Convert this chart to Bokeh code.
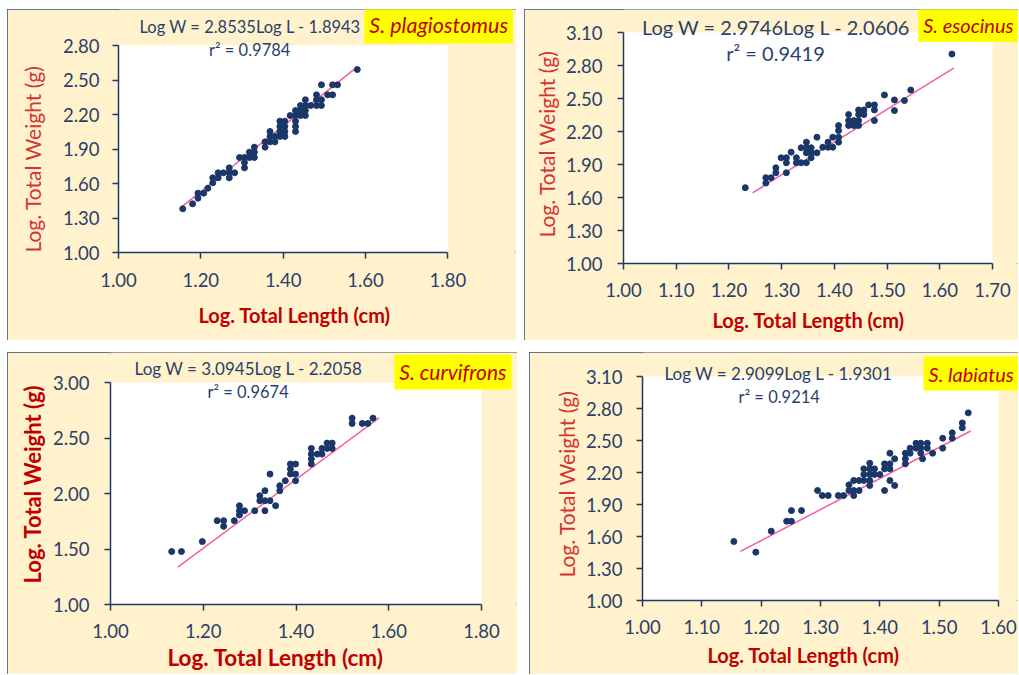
from bokeh.plotting import figure
from bokeh.layouts import row, column
from bokeh.models import Label, Title, FixedTicker, PrintfTickFormatter, Range1d
from bokeh.embed import file_html
from bokeh.resources import INLINE

# ---------------- data ----------------
species = ["S. plagiostomus", "S. esocinus", "S. curvifrons", "S. labiatus"]
equations = ["Log W = 2.8535Log  L - 1.8943",
             "Log W  = 2.9746Log L  - 2.0606",
             "Log W = 3.0945Log  L  - 2.2058",
             "Log W = 2.9099Log  L  - 1.9301"]
r2_labels = ["r\u00b2 = 0.9784", "r\u00b2 = 0.9419", "r\u00b2 = 0.9674", "r\u00b2 = 0.9214"]
slopes = [2.8535, 2.9746, 3.0945, 2.9099]
intercepts = [-1.8943, -2.0606, -2.2058, -1.9301]
fit_x_ranges = [[1.155, 1.580], [1.245, 1.627], [1.145, 1.579], [1.165, 1.553]]

x_ticks_1 = [1.00, 1.20, 1.40, 1.60, 1.80]
y_ticks_1 = [1.00, 1.30, 1.60, 1.90, 2.20, 2.50, 2.80]
x_ticks_2 = [1.00, 1.10, 1.20, 1.30, 1.40, 1.50, 1.60, 1.70]
y_ticks_2 = [1.00, 1.30, 1.60, 1.90, 2.20, 2.50, 2.80, 3.10]
x_ticks_3 = [1.00, 1.20, 1.40, 1.60, 1.80]
y_ticks_3 = [1.00, 1.50, 2.00, 2.50, 3.00]
x_ticks_4 = [1.00, 1.10, 1.20, 1.30, 1.40, 1.50, 1.60]
y_ticks_4 = [1.00, 1.30, 1.60, 1.90, 2.20, 2.50, 2.80, 3.10]

plag_logL = [1.156, 1.180, 1.193, 1.193, 1.207, 1.217, 1.229, 1.229, 1.242, 1.242,
             1.255, 1.269, 1.269, 1.269, 1.282, 1.294, 1.306, 1.306, 1.306, 1.318,
             1.318, 1.330, 1.330, 1.330, 1.356, 1.356, 1.368, 1.368, 1.368, 1.380,
             1.380, 1.392, 1.392, 1.392, 1.392, 1.404, 1.404, 1.404, 1.404, 1.417,
             1.430, 1.430, 1.430, 1.430, 1.430, 1.442, 1.442, 1.442, 1.454, 1.454,
             1.454, 1.454, 1.467, 1.481, 1.481, 1.481, 1.493, 1.493, 1.493, 1.508,
             1.520, 1.520, 1.532, 1.580]
plag_logW = [1.380, 1.423, 1.472, 1.516, 1.516, 1.559, 1.606, 1.649, 1.649, 1.693,
             1.693, 1.693, 1.736, 1.649, 1.693, 1.826, 1.826, 1.783, 1.736, 1.826,
             1.872, 1.826, 1.872, 1.916, 1.916, 1.962, 1.962, 2.009, 2.052, 1.962,
             2.009, 2.009, 2.052, 2.096, 2.142, 2.009, 2.052, 2.096, 2.142, 2.191,
             2.052, 2.096, 2.142, 2.191, 2.235, 2.235, 2.278, 2.191, 2.191, 2.235,
             2.278, 2.328, 2.278, 2.278, 2.328, 2.371, 2.278, 2.328, 2.458, 2.371,
             2.371, 2.458, 2.458, 2.591]

eso_logL = [1.231, 1.270, 1.270, 1.280, 1.289, 1.289, 1.309, 1.299, 1.309, 1.309,
            1.318, 1.328, 1.328, 1.337, 1.337, 1.347, 1.347, 1.347, 1.347, 1.356,
            1.356, 1.356, 1.367, 1.367, 1.378, 1.388, 1.388, 1.397, 1.397, 1.408,
            1.408, 1.408, 1.408, 1.427, 1.427, 1.427, 1.437, 1.437, 1.446, 1.446,
            1.446, 1.446, 1.456, 1.456, 1.465, 1.476, 1.476, 1.476, 1.495, 1.514,
            1.514, 1.533, 1.545, 1.623]
eso_logW = [1.689, 1.780, 1.731, 1.780, 1.825, 1.870, 1.825, 1.961, 1.961, 1.916,
            2.012, 1.961, 1.916, 1.916, 2.052, 2.103, 2.052, 2.006, 1.916, 2.052,
            2.006, 1.961, 2.006, 2.148, 2.057, 2.103, 2.057, 2.057, 2.148, 2.103,
            2.148, 2.208, 2.254, 2.254, 2.299, 2.354, 2.254, 2.299, 2.254, 2.299,
            2.354, 2.396, 2.354, 2.396, 2.442, 2.442, 2.396, 2.299, 2.532, 2.487,
            2.390, 2.481, 2.577, 2.904]

curv_logL = [1.132, 1.153, 1.198, 1.230, 1.244, 1.244, 1.267, 1.278, 1.278, 1.278,
             1.289, 1.311, 1.322, 1.322, 1.333, 1.333, 1.333, 1.344, 1.344, 1.356,
             1.365, 1.365, 1.377, 1.388, 1.388, 1.388, 1.399, 1.399, 1.399, 1.433,
             1.433, 1.433, 1.433, 1.446, 1.456, 1.456, 1.467, 1.467, 1.478, 1.478,
             1.521, 1.521, 1.543, 1.555, 1.566]
curv_logW = [1.477, 1.477, 1.567, 1.755, 1.755, 1.704, 1.755, 1.806, 1.845, 1.890,
             1.845, 1.845, 1.935, 1.980, 2.025, 1.935, 1.845, 1.935, 2.175, 1.890,
             2.025, 2.070, 2.115, 2.175, 2.220, 2.265, 2.265, 2.175, 2.115, 2.265,
             2.310, 2.355, 2.406, 2.355, 2.355, 2.406, 2.406, 2.454, 2.454, 2.406,
             2.679, 2.631, 2.631, 2.631, 2.679]

lab_logL = [1.154, 1.191, 1.217, 1.243, 1.251, 1.251, 1.268, 1.295, 1.303, 1.313,
            1.330, 1.339, 1.348, 1.348, 1.356, 1.356, 1.356, 1.365, 1.365, 1.373,
            1.373, 1.373, 1.383, 1.383, 1.383, 1.383, 1.383, 1.391, 1.391, 1.400,
            1.408, 1.408, 1.408, 1.417, 1.417, 1.417, 1.417, 1.425, 1.425, 1.443,
            1.443, 1.443, 1.451, 1.451, 1.461, 1.461, 1.469, 1.469, 1.469, 1.472,
            1.480, 1.480, 1.489, 1.506, 1.506, 1.522, 1.522, 1.539, 1.539, 1.549]
lab_logW = [1.553, 1.453, 1.650, 1.743, 1.743, 1.843, 1.843, 2.031, 1.984, 1.984,
            1.984, 1.984, 2.031, 2.084, 1.984, 2.031, 2.125, 2.031, 2.125, 2.125,
            2.181, 2.234, 2.078, 2.125, 2.181, 2.234, 2.287, 2.234, 2.181, 2.181,
            2.031, 2.234, 2.281, 2.281, 2.234, 2.381, 2.125, 2.078, 2.328, 2.281,
            2.328, 2.381, 2.381, 2.428, 2.428, 2.474, 2.428, 2.474, 2.381, 2.328,
            2.474, 2.428, 2.381, 2.521, 2.428, 2.572, 2.521, 2.619, 2.665, 2.759]

x_title = "Log. Total Length (cm)"
y_title = "Log. Total Weight (g)"

# ---------------- styles / geometry ----------------
CREAM = "#FFF2CC"
NAVY = "#1F3864"
TXT = "#2A3F6B"
PTS = "#1B3769"
PINK = "#F2609F"
RED_B = "#C00000"
RED_Y = "#D63333"
YELLOW = "#FFFF00"
FONT = "Lato"

# w,h canvas; bl = left border, bb = bottom border; aw, ah = pixel size of the white plot area
cfgs = [
    dict(w=509, h=331, bl=109, bb=88, aw=331, ah=207, xstand=14, ystand=13,
         eq=(1.051, 2.957, "16.5px"), r2=(1.220, 2.757, "16.5px"), sp=(1.597, 2.974, "21.5px"),
         ylab=("21px", "normal", RED_Y, 25, 0, "top"), xlab=("20px", 22, 80)),
    dict(w=494, h=331, bl=99, bb=77, aw=369, ah=231, xstand=13, ystand=15,
         eq=(1.035, 3.151, "20px"), r2=(1.195, 2.916, "20px"), sp=(1.559, 3.169, "20px"),
         ylab=("21px", "normal", RED_Y, 7, 26, "bottom"), xlab=("20px", 12, 89)),
    dict(w=510, h=322, bl=103, bb=70, aw=371, ah=222, xstand=13, ystand=15,
         eq=(1.052, 3.122, "17px"), r2=(1.209, 2.918, "16.5px"), sp=(1.612, 3.095, "21px"),
         ylab=("22px", "bold", RED_B, 8, 21, "bottom"), xlab=("22.5px", 2, 57)),
    dict(w=489, h=322, bl=113, bb=74, aw=356, ah=224, xstand=13, ystand=14,
         eq=(1.037, 3.127, "17px"), r2=(1.162, 2.912, "16.5px"), sp=(1.4736, 3.128, "20px"),
         ylab=("21px", "normal", RED_Y, 7, 23, "bottom"), xlab=("20px", 9, 65)),
]


def make_panel(i, xs, ys, xt, yt):
    c = cfgs[i]
    # the frame reaches the top and right canvas edges so the texts there are drawn
    x_end = xt[0] + (xt[-1] - xt[0]) * (c["w"] - c["bl"]) / c["aw"]
    y_end = yt[0] + (yt[-1] - yt[0]) * (c["h"] - c["bb"]) / c["ah"]
    p = figure(width=c["w"], height=c["h"],
               x_range=Range1d(xt[0], x_end), y_range=Range1d(yt[0], y_end),
               output_backend="svg", toolbar_location=None,
               min_border_left=c["bl"], min_border_right=0,
               min_border_top=0, min_border_bottom=c["bb"],
               background_fill_color=CREAM, border_fill_color=CREAM,
               outline_line_color=None,
               styles={"outline": "2px solid #2E4A7D", "outline-offset": "-2px"})
    p.grid.visible = False

    for ax in (p.xaxis[0], p.yaxis[0]):
        ax.axis_line_color = NAVY
        ax.axis_line_width = 1.5
        ax.major_tick_line_color = NAVY
        ax.major_tick_line_width = 1.5
        ax.major_tick_out = 6
        ax.major_tick_in = 0
        ax.minor_tick_line_color = None
        ax.major_label_text_font = FONT
        ax.major_label_text_font_size = "18.5px"
        ax.major_label_text_color = TXT
        ax.formatter = PrintfTickFormatter(format="%.2f")

    p.xaxis.ticker = FixedTicker(ticks=xt)
    p.yaxis.ticker = FixedTicker(ticks=yt)
    p.xaxis.bounds = (xt[0], xt[-1])
    p.yaxis.bounds = (yt[0], yt[-1])
    p.xaxis.major_label_standoff = c["xstand"]
    p.yaxis.major_label_standoff = c["ystand"]

    yfs, yst, ycol, ystd, yoff, yva = c["ylab"]
    p.add_layout(Title(text=y_title, align="left", offset=yoff, standoff=ystd,
                       vertical_align=yva,
                       text_font=FONT, text_font_size=yfs, text_font_style=yst,
                       text_color=ycol), "left")
    xfs, xstd, xoff = c["xlab"]
    p.add_layout(Title(text=x_title, align="left", offset=xoff, standoff=xstd,
                       text_font=FONT, text_font_size=xfs, text_font_style="bold",
                       text_color=RED_B), "below")

    # white plot area
    p.quad(left=[xt[0]], right=[xt[-1]], bottom=[yt[0]], top=[yt[-1]],
           fill_color="white", line_color=None)

    fx = fit_x_ranges[i]
    fy = [slopes[i] * v + intercepts[i] for v in fx]
    p.line(fx, fy, line_color=PINK, line_width=1.5)
    p.scatter(xs, ys, size=6, marker="circle", fill_color=PTS, line_color=PTS)

    ex, ey, efs = c["eq"]
    p.add_layout(Label(x=ex, y=ey, text=equations[i], text_font=FONT, text_font_size=efs,
                       text_color=TXT, text_baseline="middle", text_align="left"))
    rx, ry, rfs = c["r2"]
    p.add_layout(Label(x=rx, y=ry, text=r2_labels[i], text_font=FONT, text_font_size=rfs,
                       text_color=TXT, text_baseline="middle", text_align="left"))
    sx, sy, sfs = c["sp"]
    p.add_layout(Label(x=sx, y=sy, text=species[i], text_font=FONT, text_font_size=sfs,
                       text_font_style="italic", text_color=RED_B,
                       text_baseline="middle", text_align="left",
                       background_fill_color=YELLOW, padding=5))
    return p


p1 = make_panel(0, plag_logL, plag_logW, x_ticks_1, y_ticks_1)
p2 = make_panel(1, eso_logL, eso_logW, x_ticks_2, y_ticks_2)
p3 = make_panel(2, curv_logL, curv_logW, x_ticks_3, y_ticks_3)
p4 = make_panel(3, lab_logL, lab_logW, x_ticks_4, y_ticks_4)

# each figure sits in its own column so the frames are not aligned across a row
layout = column(row(column(p1), column(p2), spacing=8),
                row(column(p3), column(p4), spacing=12),
                spacing=12, margin=(9, 0, 0, 7))

with open("out.html", "w") as f:
    f.write(file_html(layout, INLINE))
